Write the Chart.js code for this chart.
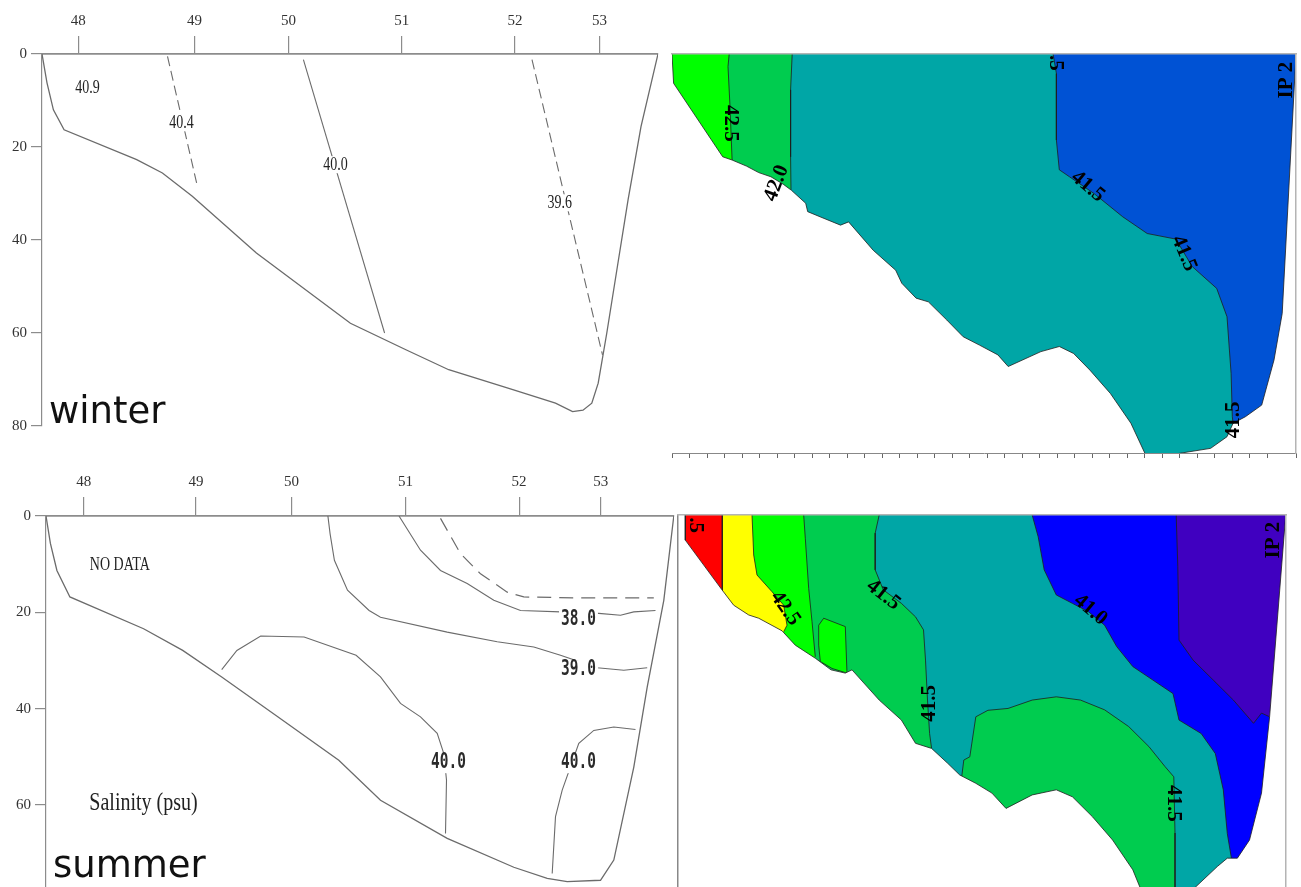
<!DOCTYPE html>
<html>
<head>
<meta charset="utf-8">
<script src="https://cdn.jsdelivr.net/npm/chart.js@4.4.1/dist/chart.umd.min.js"></script>
<style>
  html, body { margin: 0; padding: 0; background: #fff; }
  body { width: 1301px; height: 887px; position: relative; overflow: hidden; }
  .panel { position: absolute; }
</style>
</head>
<body>
<div class="panel" style="left:0;top:0"><canvas id="winterLines" width="670" height="440"></canvas></div>
<div class="panel" style="left:665px;top:44px"><canvas id="winterFill" width="636" height="420"></canvas></div>
<div class="panel" style="left:0;top:450px"><canvas id="summerLines" width="680" height="437"></canvas></div>
<div class="panel" style="left:672px;top:505px"><canvas id="summerFill" width="629" height="382"></canvas></div>
<script>
// salinity sections, winter / summer: x = distance (km), y = depth (m)
const stationNames = ['48', '49', '50', '51', '52', '53'];
const winterStationKm = [3.62, 15.24, 24.64, 35.97, 47.29, 55.75];
const summerStationKm = [3.77, 15.0, 24.54, 35.95, 47.31, 55.47];
const depthTicks = [0, 20, 40, 60, 80];

// --- winter, contour lines
const winterBottom = [[0,0],[0.5,6.2],[1.14,12.0],[2.21,16.3],[9.47,22.7],[12.04,25.6],[15.03,30.6],[21.44,42.8],[30.84,57.9],[36.39,63.6],[40.67,67.9],[47.08,72.2],[51.35,75.1],[53.06,76.9],[54.1,76.6],[54.98,75.1],[55.62,70.8],[56.48,60.0],[57.54,45.7],[58.61,31.3],[59.9,15.6],[61.6,0]];
const winterIso404 = [[12.55,0.5],[15.46,27.7]];
const winterIso400 = [[26.14,1.2],[34.26,60.0]];
const winterIso396 = [[49.0,1.2],[56.05,64.7]];
const winterIsoLabels = [['40.9',4.56,7.3],['40.4',13.96,14.8],['40.0',29.34,23.8],['39.6',51.78,32.0]];

// --- summer, contour lines
const summerBottom = [[0,0],[0.44,5.7],[1.09,11.3],[2.39,16.8],[9.76,23.4],[13.67,27.9],[17.57,33.4],[23.21,41.7],[29.28,50.7],[33.45,59.0],[40.12,66.9],[46.78,72.9],[50.12,75.2],[52.12,75.9],[55.45,75.6],[56.78,71.4],[58.78,52.1],[60.12,35.5],[61.78,17.5],[62.78,0]];
const summerIso380 = [[35.3,0],[37.45,7.1],[39.45,11.3],[42.12,14.0],[44.78,17.5],[47.45,19.6],[51.45,19.9],[55.28,20.2],[57.45,20.6],[58.78,19.9],[60.95,19.6]];
const summerIsoDash = [[39.45,0.5],[41.45,7.8],[43.45,12.0],[46.12,15.8],[47.78,16.8],[53.45,17.0],[60.78,17.0]];
const summerIso390 = [[28.19,0],[28.41,3.7],[28.84,9.2],[30.15,15.4],[32.31,19.6],[33.45,21.0],[40.12,24.1],[45.12,26.1],[48.78,27.2],[51.45,28.9],[55.12,31.5],[57.78,32.0],[60.12,31.5]];
const summerIso400a = [[17.57,31.9],[19.09,27.9],[21.47,24.9],[25.81,25.1],[31.01,28.9],[33.45,33.4],[35.45,38.9],[37.45,41.7],[39.12,45.1],[39.78,49.3],[40.05,54.8],[39.95,65.9]];
const summerIso400b = [[50.62,74.2],[50.95,62.4],[51.62,56.9],[53.28,47.2],[54.78,44.5],[56.78,43.8],[58.95,44.3]];
const summerIsoLabels = [['38.0',53.25,21.6],['39.0',53.25,32.0],['40.0',40.25,51.3],['40.0',53.25,51.3]];
const summerNoteSmall = [['NO DATA',7.38,10.2]];
const summerNoteBig = [['Salinity (psu)',9.75,59.7]];

// --- winter, filled section (IP 2)
const wfBottom = [[0,0],[0.16,6.3],[5.07,22.1],[6.01,22.8],[7.44,24.1],[8.67,25.5],[9.89,26.4],[11.12,28.0],[11.94,29.3],[13.37,32.1],[13.57,33.9],[14.8,35.0],[16.85,36.8],[17.66,36.1],[20.12,42.2],[22.37,46.5],[22.98,49.3],[24.41,52.5],[25.64,53.3],[27.48,57.2],[29.12,60.8],[30.75,62.6],[32.59,64.7],[33.62,67.2],[36.89,64.0],[38.73,62.9],[40.16,64.4],[41.8,68.0],[43.84,73.0],[45.89,79.4],[47.32,86],[50.38,86],[53.86,84.8],[55.5,82.3],[56.11,79.4],[57.34,78.0],[58.97,75.5],[60.2,65.8],[61.02,55.8],[62.4,0]];
const wf425 = [[5.72,0],[5.6,2.7],[5.8,11.3],[6.01,22.8]];
const wf420 = [[12.02,0],[11.86,7.7],[11.86,22.1],[11.9,29.2]];
const wf415 = [[38.11,0],[38.44,4.2],[38.44,18.5],[38.73,24.9],[39.75,26.4],[42.2,30.0],[45.07,35.0],[47.52,38.6],[50.38,39.8],[52.02,45.7],[54.47,50.4],[55.5,56.5],[55.91,68.7],[56.03,78.0],[56.11,79.4]];
const wfLabels = [['42.5',5.8,14.9,90],['42.0',10.45,27.8,-69],['.5',38.32,1.9,90],['41.5',41.59,28.5,40],['41.5',51.2,42.9,67],['41.5',56.11,78.7,-90],['IP 2',61.43,5.6,-90]];

// --- summer, filled section (IP 2)
const sfBottom = [[0.73,0],[0.73,5.4],[4.4,16.1],[5.57,19.4],[7.07,21.5],[8.07,22.2],[10.4,24.9],[11.73,28.0],[13.73,30.8],[15.3,33.3],[16.73,34.0],[17.4,33.3],[20.12,39.8],[22.34,44.1],[23.75,49.1],[25.36,50.2],[26.97,53.4],[28.17,55.9],[29.78,57.7],[31.39,59.8],[32.8,63.1],[35.42,60.2],[37.83,59.1],[39.44,60.6],[41.45,64.9],[43.46,69.9],[45.48,76.3],[46.28,80.5],[51.51,80.5],[53.93,75.6],[54.93,73.8],[55.94,73.8],[57.15,69.9],[58.35,59.8],[59.16,43.4],[60.77,0]];
const sf435 = [[4.43,0],[4.43,16.3]];
const sf430 = [[7.4,0],[7.57,8.6],[7.9,12.9],[9.4,16.5],[10.57,19.4],[10.9,23.7],[10.57,25.1]];
const sf425 = [[12.57,0],[12.73,5.0],[13.07,15.8],[13.4,22.9],[13.73,30.5]];
const sf425Patch = [[14.07,23.7],[14.57,22.2],[16.73,24.0],[16.9,34.0],[15.4,33.0],[14.23,31.5],[14.07,28.0],[14.07,23.7]];
const sf420 = [[20.12,0],[19.72,3.9],[19.72,11.8],[20.53,16.1],[22.34,19.0],[23.75,21.9],[24.55,24.7],[24.75,31.2],[24.95,39.8],[25.16,47.0],[25.36,50.2]];
const sf415 = [[35.42,0],[36.02,4.7],[36.62,11.8],[37.83,17.2],[39.44,19.0],[41.05,20.8],[42.66,23.7],[43.87,28.3],[45.48,32.6],[47.49,35.5],[49.5,38.4],[50.1,44.1],[52.32,47.0],[53.73,51.3],[54.53,59.1],[54.93,68.5],[55.34,73.8]];
const sf410 = [[49.82,0],[49.98,11.1],[50.1,26.9],[51.51,31.2],[53.53,35.5],[55.54,39.8],[57.55,44.8],[58.35,42.6],[59.16,43.4]];
const sf420Patch = [[28.37,56.3],[28.58,52.7],[29.18,52.0],[29.78,43.4],[30.99,42.0],[33.0,41.6],[35.42,39.8],[37.83,39.1],[40.25,39.8],[42.66,41.9],[45.07,45.5],[47.09,49.8],[48.7,54.1],[49.58,56.3],[49.7,68.4],[49.7,80.5]];
const sfLabels = [['.5',1.73,2.2,90],['42.5',10.73,20.1,55],['41.5',20.53,17.2,38],['41.5',25.16,40.5,-90],['41.0',41.25,20.4,40],['41.5',49.5,62.0,90],['IP 2',59.56,5.4,-90]];

const C = {
  line: '#6b6b6b', axis: '#8c8c8c', edge: '#1e1e1e',
  red: '#ff0000', yellow: '#ffff00', lime: '#00ff00', green: '#00cc4f',
  teal: '#00a6a6', blueW: '#0052d4', blue: '#0000ff', violet: '#4000c0',
};
const serif = '"Liberation Serif", "Times New Roman", serif';

const pts = a => a.map(([x, y]) => ({ x, y }));
const line = (a, color, width, dash) => ({
  data: pts(a), showLine: true, fill: false, borderColor: color, borderWidth: width,
  borderDash: dash || [], pointRadius: 0, pointHoverRadius: 0, tension: 0,
});
const area = (a, color) => ({
  data: pts(a), showLine: true, fill: 'shape', backgroundColor: color, borderColor: color,
  borderWidth: 0, pointRadius: 0, pointHoverRadius: 0, tension: 0,
});
// region left of a contour edge (what lies under the bottom gets masked later)
const leftOf = (edge, yMax) => [[-1, -1], [edge[0][0], -1], ...edge, [edge[edge.length - 1][0], yMax + 1], [-1, yMax + 1]];
const box = (xMax, yMax) => [[-1, -1], [xMax + 1, -1], [xMax + 1, yMax + 1], [-1, yMax + 1]];
const mask = (bottom, xMax, yMax) => area([[bottom[0][0], -1], ...bottom, [bottom[bottom.length - 1][0], -1], [xMax + 1, -1], [xMax + 1, yMax + 1], [-1, yMax + 1], [-1, -1]], '#fff');
// first dataset in the list is painted first
const layered = list => list.map((d, i) => ({ ...d, order: list.length - i }));

const panelText = {
  id: 'panelText',
  afterDatasetsDraw(chart, args, opts) {
    const { ctx } = chart;
    const xs = chart.scales.x, ys = chart.scales.y;
    for (const set of opts.sets || []) {
      ctx.save();
      ctx.font = set.font;
      ctx.textAlign = set.align || 'center';
      ctx.textBaseline = set.baseline || 'middle';
      for (const [txt, vx, vy, rot] of set.items) {
        ctx.save();
        ctx.translate(xs.getPixelForValue(vx), ys.getPixelForValue(vy));
        if (rot) ctx.rotate(rot * Math.PI / 180);
        if (set.bg) {
          const w = ctx.measureText(txt).width;
          ctx.fillStyle = set.bg;
          ctx.fillRect(-w / 2 - 2, -set.h / 2, w + 4, set.h);
        }
        if (set.sy) ctx.scale(1, set.sy);
        ctx.fillStyle = set.color || '#111';
        ctx.fillText(txt, 0, 0);
        ctx.restore();
      }
      ctx.restore();
    }
  },
};

function sectionScales(stationKm, xMax, yMax, topH, leftW, tickLen) {
  return {
    x: {
      type: 'linear', position: 'top', min: 0, max: xMax,
      afterBuildTicks: a => { a.ticks = stationKm.map(value => ({ value })); },
      ticks: { autoSkip: false, maxRotation: 0, padding: 6, color: '#333', font: { family: serif, size: 15 },
        callback: (v, i) => stationNames[i] },
      grid: { drawOnChartArea: false, tickLength: tickLen, color: C.axis, lineWidth: 1.2 },
      border: { color: C.axis, width: 1.8 },
      afterFit: a => { a.height = topH; a.paddingLeft = 0; a.paddingRight = 0; },
    },
    y: {
      type: 'linear', reverse: true, min: 0, max: yMax,
      afterBuildTicks: a => { a.ticks = depthTicks.filter(v => v <= yMax).map(value => ({ value })); },
      ticks: { padding: 4, color: '#333', font: { family: serif, size: 15 } },
      grid: { drawOnChartArea: false, tickLength: 11, color: C.axis, lineWidth: 1.2 },
      border: { color: C.axis, width: 1.2 },
      afterFit: a => { a.width = leftW; a.paddingTop = 0; a.paddingBottom = 0; },
    },
  };
}

function frameScales(xMax, yMax, bottomTicks, leftDotted) {
  return {
    x: {
      type: 'linear', position: 'bottom', min: 0, max: xMax, display: bottomTicks,
      ticks: { display: false, stepSize: 1.75 },
      grid: { drawOnChartArea: false, tickLength: 5, color: '#666', z: 1 },
      border: { color: '#888', z: 1 },
      afterFit: a => { a.height = bottomTicks ? 11 : 0; },
    },
    y: {
      type: 'linear', reverse: true, min: 0, max: yMax, display: leftDotted,
      ticks: { display: false }, grid: { display: false },
      border: { color: '#888', width: 1.5, dash: [1, 2], z: 1 },
      afterFit: a => { a.width = 0; },
    },
    xTop: {
      type: 'linear', position: 'top', min: 0, max: 1,
      ticks: { display: false }, grid: { display: false }, border: { color: '#b4b4b4', width: 1.5, z: 1 },
      afterFit: a => { a.height = 0; },
    },
    yRight: {
      type: 'linear', position: 'right', min: 0, max: 1,
      ticks: { display: false }, grid: { display: false }, border: { color: '#b4b4b4', width: 1.5, z: 1 },
      afterFit: a => { a.width = 0; },
    },
  };
}

function makeChart(id, datasets, scales, padding, sets) {
  return new Chart(document.getElementById(id), {
    type: 'scatter',
    data: { datasets },
    plugins: [panelText],
    options: {
      responsive: false, animation: false, devicePixelRatio: 1, events: [],
      layout: { padding, autoPadding: false },
      scales,
      plugins: { legend: { display: false }, tooltip: { enabled: false }, panelText: { sets } },
    },
  });
}

const titleFont = '37px "DejaVu Sans", sans-serif';

// winter, isohalines
makeChart('winterLines', [
  line(winterBottom, C.line, 1.3),
  line(winterIso404, C.line, 1.1, [10, 5]),
  line(winterIso400, C.line, 1.1),
  line(winterIso396, C.line, 1.1, [10, 5]),
], sectionScales(winterStationKm, 61.6, 80, 54, 42, 18), { left: 0, top: 0, right: 12, bottom: 14 }, [
  { items: winterIsoLabels, font: '14px ' + serif, color: '#222', bg: '#fff', h: 17, sy: 1.4 },
  { items: [['winter', 0.7, 79.3]], font: titleFont, color: '#111', align: 'left', baseline: 'alphabetic' },
]);

// summer, isohalines
makeChart('summerLines', [
  line(summerBottom, C.line, 1.3),
  line(summerIsoDash, C.line, 1.2, [14, 8]),
  line(summerIso380, C.line, 1.1),
  line(summerIso390, C.line, 1.1),
  line(summerIso400a, C.line, 1.1),
  line(summerIso400b, C.line, 1.1),
], sectionScales(summerStationKm, 62.8, 77, 66, 46, 19), { left: 0, top: 0, right: 6, bottom: 0 }, [
  { items: summerIsoLabels, font: 'bold 14.5px "DejaVu Sans Mono", monospace', color: '#2a2a2a', bg: '#fff', h: 20, sy: 1.4 },
  { items: summerNoteSmall, font: '14px ' + serif, color: '#222', sy: 1.3 },
  { items: summerNoteBig, font: '20px ' + serif, color: '#222', sy: 1.3 },
  { items: [['summer', 0.7, 74.9]], font: titleFont, color: '#111', align: 'left', baseline: 'alphabetic' },
]);

// winter, filled
const wX = 62.4, wY = 85.8;
makeChart('winterFill', layered([
  area(box(wX, wY), C.blueW),
  area(leftOf(wf415, wY), C.teal),
  area(leftOf(wf420, wY), C.green),
  area(leftOf(wf425, wY), C.lime),
  line(wf415, C.edge, 0.8),
  line(wf420, C.edge, 0.8),
  line(wf425, C.edge, 0.8),
  mask(wfBottom, wX, wY),
  line(wfBottom, C.edge, 0.8),
]), frameScales(wX, wY, true, false), { left: 7, top: 10, right: 5, bottom: 0 }, [
  { items: wfLabels, font: 'bold 21px ' + serif, color: '#000' },
]);

// summer, filled
const sX = 60.8, sY = 80;
makeChart('summerFill', layered([
  area(box(sX, sY), C.violet),
  area(leftOf(sf410, sY), C.blue),
  area(leftOf(sf415, sY), C.teal),
  area(leftOf(sf420, sY), C.green),
  area([...sf420Patch, [28.0, 80.5]], C.green),
  area(leftOf(sf425, sY), C.lime),
  area(sf425Patch, C.lime),
  area(leftOf(sf430, sY), C.yellow),
  area(leftOf(sf435, sY), C.red),
  line(sf410, C.edge, 0.8),
  line(sf415, C.edge, 0.8),
  line(sf420, C.edge, 0.8),
  line(sf420Patch, C.edge, 0.8),
  line(sf425, C.edge, 0.8),
  line(sf425Patch, C.edge, 0.8),
  line(sf430, C.edge, 0.8),
  line(sf435, C.edge, 0.8),
  mask(sfBottom, sX, sY),
  line(sfBottom, C.edge, 0.8),
]), frameScales(sX, sY, false, true), { left: 6, top: 10, right: 15, bottom: 0 }, [
  { items: sfLabels, font: 'bold 21px ' + serif, color: '#000' },
]);
</script>
</body>
</html>
